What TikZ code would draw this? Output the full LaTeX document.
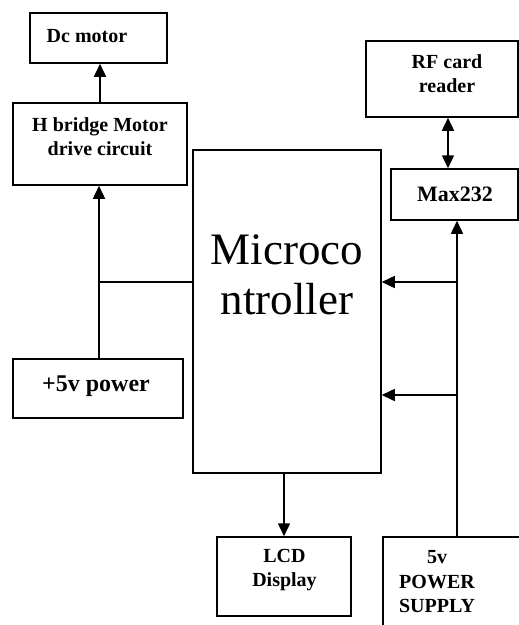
\documentclass[tikz,border=0pt]{standalone}
\usepackage{fontspec}
\setmainfont{Liberation Serif}
\usetikzlibrary{arrows.meta,calc}

\begin{document}
\begin{tikzpicture}[x=1pt,y=-1pt,>={Triangle[length=13pt,width=12pt]},line width=1.5pt,
  blk/.style={draw,line width=1.5pt,inner sep=0pt},
  lbl/.style={align=center,inner sep=0pt,font=\fontsize{20}{24}\selectfont\bfseries}]
  \useasboundingbox (0,0) rectangle (519,625);
  \clip (0,0) rectangle (519,625);
  % left side
  \node[blk,minimum width=137pt,minimum height=50pt] (dc) at (98.5,38) {};
  \node[lbl] (dctext) at (87,36) {Dc motor};
  \node[blk,minimum width=174pt,minimum height=82pt] (hb) at (100,144) {};
  \node[lbl] (hbtext) at (100,137) {H bridge Motor\\drive circuit};
  \node[blk,minimum width=170pt,minimum height=59pt] (pw) at (98,388.5) {};
  \node[lbl,font=\fontsize{24}{28}\selectfont\bfseries] (pwtext) at (96,386) {+5v power};
  % microcontroller
  \node[blk,minimum width=188pt,minimum height=323pt] (mcu) at (287,311.5) {};
  \node[lbl,font=\fontsize{45}{50}\selectfont] (mcutext) at (287,275) {Microco\\ntroller};
  % right side
  \node[blk,minimum width=152pt,minimum height=76pt] (rf) at (442,79) {};
  \node[lbl] (rftext) at (447,74) {RF card\\reader};
  \node[blk,minimum width=127pt,minimum height=51pt] (max) at (454.5,194.5) {};
  \node[lbl,font=\fontsize{22}{26}\selectfont\bfseries] (maxtext) at (455,194) {Max232};
  \node[blk,minimum width=134pt,minimum height=79pt] (lcd) at (284,576.5) {};
  \node[lbl] (lcdtext) at (284.5,570) {LCD\\Display};
  \node[blk,minimum width=147pt,minimum height=103pt] (psu) at (456.5,588.5) {};
  \node[lbl,font=\fontsize{20}{24.5}\selectfont\bfseries] (psutext) at (437,582) {5v\\POWER\\SUPPLY};

  \coordinate (j1) at (99,282);
  \coordinate (j2) at (457,282);
  \coordinate (j3) at (457,395);
  \coordinate (rfx) at (448,0);

  \draw[->] (hb.north) -- (hb.north |- dc.south);
  \draw[->] (pw.north -| j1) -- (j1 |- hb.south);
  \draw (j1) -- (j1 -| mcu.west);
  \draw[->] (mcu.south -| lcd.north) -- (lcd.north);
  \draw[<->] (rfx |- rf.south) -- (rfx |- max.north);
  \draw[->] (psu.north -| j2) -- (j2 |- max.south);
  \draw[->] (j2) -- (j2 -| mcu.east);
  \draw[->] (j3) -- (j3 -| mcu.east);
\end{tikzpicture}
\end{document}
